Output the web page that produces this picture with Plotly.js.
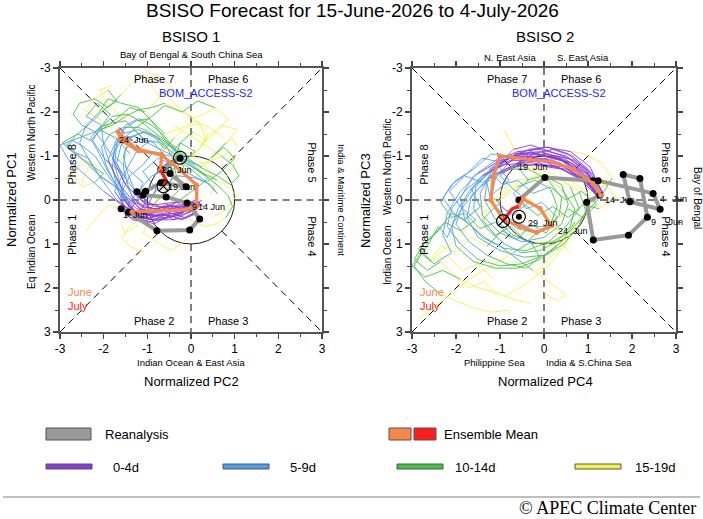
<!DOCTYPE html>
<html><head><meta charset="utf-8">
<script src="https://cdn.plot.ly/plotly-3.0.1.min.js"></script>
<style>html,body{margin:0;padding:0;background:#fff}#chart{width:703px;height:519px}</style>
</head><body><div id="chart"></div>
<script>
// ---------------- DATA ----------------
const tickVals = [-3,-2,-1,0,1,2,3];
const tickText = ["-3","-2","-1","0","1","2","3"];
const leadGroups = ["0-4d","5-9d","10-14d","15-19d"];
const groupColors = ["#8a3be0","#4f9ef2","#45c23f","#f4f444"];

// BSISO1 ensemble members: x = PC2, y = PC1 (daily, 20 days)
const bsiso1PC2 = [
 [0.10,-0.25,-0.60,-0.95,-1.25,-1.45,-1.65,-1.85,-2.00,-2.05,-1.80,-1.45,-1.10,-0.80,-0.50,-0.20,0.15,0.40,0.55,0.45],
 [0.05,-0.20,-0.55,-0.90,-1.20,-1.40,-1.60,-1.75,-1.70,-1.50,-1.20,-0.90,-0.65,-0.40,-0.20,0.10,0.50,0.90,1.00,0.80],
 [0.20,0.00,-0.40,-0.80,-1.10,-1.30,-1.45,-1.55,-1.40,-1.10,-0.80,-0.55,-0.40,-0.35,-0.20,-0.50,-0.90,-1.20,-1.50,-1.60],
 [0.15,-0.10,-0.45,-0.85,-1.30,-1.70,-2.00,-2.30,-2.55,-2.40,-2.10,-1.90,-1.60,-1.20,-0.90,-0.60,-0.30,0.10,0.40,0.20],
 [0.00,-0.30,-0.70,-1.00,-1.35,-1.55,-1.60,-1.50,-1.25,-0.95,-0.70,-0.45,-0.20,0.05,0.30,0.60,0.85,1.05,0.80,0.50],
 [0.25,0.05,-0.35,-0.75,-1.05,-1.25,-1.50,-1.75,-2.00,-2.20,-2.50,-2.70,-2.55,-2.20,-1.90,-1.60,-1.30,-1.10,-0.90,-0.70],
 [0.10,-0.15,-0.50,-0.85,-1.15,-1.35,-1.55,-1.70,-1.60,-1.35,-1.05,-0.80,-0.55,-0.30,-0.05,0.25,0.50,0.70,0.95,1.05],
 [0.05,-0.25,-0.60,-1.00,-1.30,-1.55,-1.75,-2.00,-2.20,-2.45,-2.70,-2.85,-2.60,-2.30,-2.00,-2.20,-2.50,-2.70,-2.40,-2.10],
 [0.20,-0.05,-0.40,-0.75,-1.10,-1.30,-1.45,-1.55,-1.50,-1.20,-0.85,-0.60,-0.40,-0.50,-0.80,-1.10,-1.40,-1.60,-1.40,-1.10],
 [0.10,-0.20,-0.55,-0.90,-1.25,-1.50,-1.75,-1.95,-2.05,-1.85,-1.55,-1.20,-0.95,-0.80,-0.60,-0.40,-0.10,0.20,0.50,0.75],
 [0.15,-0.10,-0.45,-0.80,-1.15,-1.40,-1.65,-1.90,-2.10,-2.30,-2.10,-1.80,-1.50,-1.30,-1.05,-1.30,-1.60,-1.90,-2.10,-1.80],
 [0.05,-0.25,-0.60,-0.95,-1.30,-1.55,-1.70,-1.80,-1.75,-1.55,-1.25,-0.95,-0.75,-0.55,-0.30,-0.15,-0.40,-0.70,-0.95,-1.20],
 [0.10,-0.35,-0.85,-1.30,-1.60,-1.90,-1.70,-1.30,-0.80,-0.30,0.10,0.40,0.65,0.85,0.95,0.80,0.55,0.30,0.10,-0.20],
 [0.20,-0.20,-0.70,-1.15,-1.50,-1.80,-1.60,-1.20,-0.70,-0.20,0.20,0.60,0.90,1.10,0.95,0.70,0.40,0.10,-0.15,-0.40],
 [0.00,-0.35,-0.80,-1.25,-1.60,-2.00,-2.40,-2.80,-3.00,-2.60,-2.20,-1.80,-1.50,-1.20,-0.90,-0.60,-0.30,0.05,0.30,0.55],
 [0.15,-0.15,-0.45,-0.90,-1.20,-1.05,-0.70,-0.30,0.10,0.45,0.60,0.30,0.00,-0.35,-0.25,0.05,0.35,0.20,-0.20,-0.50],
 [0.05,-0.30,-0.75,-1.05,-1.45,-1.75,-1.55,-1.95,-2.25,-2.05,-2.40,-2.15,-1.85,-2.10,-1.70,-1.40,-1.75,-2.05,-2.35,-2.50],
 [0.25,-0.05,-0.35,-0.70,-1.00,-0.80,-1.10,-0.75,-0.40,-0.05,0.35,0.70,1.00,0.75,0.45,0.80,1.05,0.70,0.40,0.15],
 [0.10,-0.40,-0.65,-1.10,-1.50,-1.30,-1.65,-2.10,-2.35,-2.70,-2.95,-2.60,-2.30,-2.00,-1.70,-1.90,-2.20,-2.45,-2.10,-1.80],
 [0.00,-0.25,-0.65,-0.95,-1.40,-1.60,-1.40,-1.10,-0.85,-0.50,-0.25,0.10,-0.20,-0.55,-0.85,-1.20,-1.50,-1.90,-2.20,-2.40],
 [0.30,0.05,-0.30,-0.55,-0.95,-1.25,-1.10,-1.45,-1.80,-1.55,-1.25,-0.90,-0.60,-0.20,0.15,0.55,0.85,0.60,0.30,0.05],
 [0.10,-0.20,-0.50,-0.85,-1.20,-1.45,-1.20,-0.90,-0.55,-0.20,0.10,0.40,0.10,-0.20,-0.55,-0.90,-1.10,-0.80,-0.45,-0.10],
 [0.20,-0.10,-0.50,-0.80,-1.15,-1.45,-1.80,-2.15,-2.50,-2.85,-2.60,-2.30,-2.05,-1.70,-1.40,-1.05,-0.75,-0.40,-0.60,-0.95]
];
const bsiso1PC1 = [
 [0.15,0.20,0.25,0.30,0.28,0.05,-0.35,-0.80,-1.25,-1.65,-1.90,-1.95,-1.75,-1.50,-1.30,-1.10,-0.95,-0.70,-0.40,-0.10],
 [0.10,0.30,0.40,0.45,0.40,0.10,-0.30,-0.80,-1.30,-1.70,-1.85,-1.70,-1.50,-1.20,-0.95,-0.80,-0.90,-1.10,-0.80,-0.50],
 [0.05,0.10,0.20,0.15,0.05,-0.25,-0.60,-1.00,-1.40,-1.55,-1.45,-1.20,-0.90,-0.60,-0.30,0.00,0.30,0.55,0.75,0.55],
 [0.20,0.25,0.35,0.35,0.30,0.00,-0.40,-0.85,-1.30,-1.70,-2.00,-2.30,-2.20,-2.10,-1.80,-1.50,-1.60,-1.80,-1.50,-1.20],
 [0.15,0.35,0.45,0.50,0.45,0.20,-0.20,-0.65,-1.10,-1.35,-1.30,-1.10,-0.90,-0.75,-0.60,-0.45,-0.30,-0.10,0.20,0.40],
 [0.10,0.05,0.05,0.10,0.10,-0.15,-0.50,-0.90,-1.30,-1.55,-1.70,-1.95,-2.20,-2.30,-2.10,-2.40,-2.70,-2.85,-2.60,-2.30],
 [0.00,0.10,0.15,0.20,0.15,-0.10,-0.45,-0.85,-1.25,-1.45,-1.55,-1.45,-1.30,-1.10,-0.90,-0.75,-0.95,-1.20,-1.40,-1.20],
 [0.25,0.35,0.40,0.35,0.25,0.00,-0.35,-0.70,-1.00,-1.20,-1.35,-1.20,-1.00,-0.80,-0.60,-0.40,-0.30,-0.60,-0.90,-0.75],
 [0.15,0.25,0.30,0.35,0.30,0.05,-0.35,-0.75,-1.15,-1.40,-1.30,-1.00,-0.65,-0.30,0.05,0.40,0.60,0.85,1.05,1.20],
 [0.05,0.15,0.20,0.25,0.20,-0.05,-0.40,-0.80,-1.20,-1.50,-1.65,-1.65,-1.55,-1.40,-1.15,-1.40,-1.65,-1.75,-1.60,-1.40],
 [0.30,0.40,0.45,0.45,0.40,0.15,-0.25,-0.65,-1.05,-1.40,-1.65,-1.75,-1.80,-1.60,-1.35,-1.60,-1.90,-2.20,-2.50,-2.60],
 [0.10,0.20,0.30,0.40,0.35,0.10,-0.30,-0.75,-1.20,-1.60,-1.80,-1.85,-1.60,-1.30,-1.05,-0.70,-0.40,-0.10,0.20,0.35],
 [0.15,0.25,0.20,0.05,-0.30,-0.90,-1.40,-1.45,-1.20,-0.95,-0.70,-0.50,-0.30,-0.10,0.15,0.40,0.55,0.60,0.50,0.40],
 [0.05,0.15,0.15,0.00,-0.35,-0.95,-1.50,-1.60,-1.35,-1.05,-0.75,-0.55,-0.35,-0.55,-0.80,-1.00,-1.20,-1.40,-1.55,-1.70],
 [0.20,0.30,0.35,0.30,0.10,-0.20,-0.55,-0.90,-1.25,-1.40,-1.55,-1.70,-1.90,-2.05,-2.10,-2.20,-2.05,-1.85,-1.95,-2.10],
 [0.25,0.40,0.30,0.45,0.35,0.05,-0.30,-0.55,-0.50,-0.35,-0.15,-0.45,-0.70,-0.95,-1.30,-1.55,-1.35,-1.75,-2.05,-2.30],
 [0.10,0.35,0.20,0.40,0.25,-0.20,-0.60,-0.90,-1.35,-1.70,-1.90,-2.20,-1.95,-1.60,-1.40,-1.05,-0.85,-0.60,-0.75,-0.40],
 [0.00,0.20,0.05,0.25,0.15,-0.25,-0.65,-0.95,-0.80,-0.60,-0.40,-0.65,-0.95,-1.20,-0.95,-1.30,-1.60,-1.70,-1.45,-1.10],
 [0.20,0.45,0.30,0.50,0.35,0.10,-0.25,-0.55,-0.95,-1.10,-1.30,-1.50,-1.75,-2.05,-2.25,-2.50,-2.30,-2.05,-1.85,-1.60],
 [0.05,0.30,0.15,0.35,0.20,-0.15,-0.55,-0.80,-1.10,-1.00,-1.30,-1.10,-0.85,-0.60,-0.30,-0.05,0.25,0.10,0.45,0.70],
 [0.15,0.05,0.25,0.10,0.30,0.00,-0.40,-0.70,-1.05,-1.40,-1.65,-1.90,-2.15,-2.00,-2.25,-2.10,-1.85,-1.55,-1.30,-1.00],
 [0.30,0.45,0.35,0.55,0.40,0.10,-0.20,-0.55,-0.70,-0.95,-0.75,-0.50,-0.25,-0.05,0.20,0.40,0.75,0.95,1.15,0.90],
 [0.05,0.25,0.10,0.30,0.20,-0.05,-0.35,-0.60,-0.95,-1.25,-1.50,-1.35,-1.60,-1.85,-2.10,-2.00,-2.30,-2.50,-2.75,-2.90]
];

// BSISO2 ensemble members: x = PC4, y = PC3
const bsiso2PC4 = [
 [1.25,0.90,0.35,-0.25,-0.80,-1.20,-1.45,-1.40,-1.00,-0.50,0.00,0.40,0.55,0.40,0.00,-0.40,-0.80,-1.30,-1.80,-2.30],
 [1.30,1.00,0.50,-0.10,-0.60,-1.10,-1.60,-1.90,-1.80,-1.40,-0.90,-0.40,0.10,0.50,0.80,0.60,0.20,-0.30,-0.80,-1.30],
 [1.20,0.85,0.30,-0.30,-0.90,-1.40,-1.80,-2.10,-2.20,-1.90,-1.50,-1.00,-0.50,0.00,0.40,0.70,0.50,0.10,-0.40,-0.90],
 [1.25,0.95,0.55,0.10,-0.35,-0.75,-1.10,-1.20,-1.00,-0.60,-0.20,0.15,0.30,0.15,-0.20,-0.60,-1.00,-1.50,-2.00,-2.60],
 [1.30,0.90,0.40,-0.20,-0.75,-1.25,-1.65,-1.75,-1.50,-1.00,-0.45,0.05,0.45,0.75,0.95,0.80,0.40,-0.10,-0.60,-1.00],
 [1.20,0.80,0.20,-0.45,-1.00,-1.50,-1.90,-2.20,-2.30,-2.10,-2.50,-2.80,-3.00,-2.70,-2.30,-1.90,-1.50,-1.10,-0.70,-0.30],
 [1.35,1.05,0.60,0.05,-0.50,-0.95,-1.30,-1.35,-1.10,-0.70,-0.25,0.20,0.60,0.95,1.30,1.55,1.30,0.90,0.40,-0.10],
 [1.25,0.90,0.35,-0.20,-0.70,-1.15,-1.55,-1.85,-2.00,-1.70,-1.30,-0.85,-0.40,-0.10,-0.30,-0.70,-1.20,-1.70,-2.20,-2.85],
 [1.20,0.85,0.40,-0.15,-0.65,-1.05,-1.30,-1.20,-0.85,-0.40,0.05,0.35,0.40,0.10,-0.35,-0.80,-1.20,-1.45,-1.30,-0.90],
 [1.30,0.95,0.45,-0.10,-0.60,-1.00,-1.40,-1.70,-1.95,-2.10,-2.00,-1.60,-1.10,-0.60,-0.10,0.30,0.65,0.95,1.20,1.45],
 [1.25,0.95,0.50,-0.05,-0.55,-1.00,-1.45,-1.80,-2.05,-2.20,-2.40,-2.60,-2.80,-2.95,-2.70,-2.40,-2.00,-1.60,-1.20,-0.80],
 [1.20,0.85,0.30,-0.25,-0.75,-1.20,-1.55,-1.60,-1.30,-0.90,-0.50,-0.10,0.30,0.60,0.70,0.40,0.00,-0.40,-0.70,-0.90],
 [1.30,1.05,0.70,0.25,-0.15,-0.55,-0.95,-1.40,-1.75,-2.10,-2.35,-2.10,-1.80,-1.45,-1.10,-0.75,-0.40,-0.05,0.30,0.60],
 [1.25,0.95,0.55,0.15,-0.30,-0.70,-1.05,-0.80,-1.20,-0.85,-0.50,-0.15,0.20,0.55,0.90,1.25,1.65,1.40,1.00,0.60],
 [1.20,0.90,0.50,0.00,-0.45,-0.90,-1.30,-1.65,-1.45,-1.80,-2.10,-2.40,-2.70,-2.95,-2.65,-2.35,-2.00,-1.70,-1.35,-1.05],
 [1.30,1.00,0.65,0.20,-0.25,-0.65,-0.35,-0.70,-0.40,-0.05,0.30,0.05,-0.30,-0.60,-0.95,-1.30,-1.65,-2.00,-2.35,-2.60],
 [1.25,0.95,0.60,0.15,-0.30,-0.75,-1.20,-1.60,-2.00,-2.30,-2.05,-1.70,-1.35,-1.00,-0.60,-0.25,0.10,0.50,0.30,0.00],
 [1.35,1.10,0.70,0.30,-0.20,-0.60,-1.00,-0.70,-0.35,-0.70,-1.05,-1.40,-1.10,-0.75,-0.40,-0.10,0.20,-0.15,-0.50,-0.80],
 [1.20,0.85,0.40,-0.05,-0.55,-1.00,-1.40,-1.80,-2.15,-1.90,-1.55,-1.90,-2.25,-2.55,-2.85,-2.55,-2.20,-1.85,-1.50,-1.15],
 [1.30,0.95,0.50,0.05,-0.40,-0.85,-1.25,-0.95,-0.60,-0.25,0.15,0.50,0.85,1.20,0.90,0.55,0.20,0.50,0.15,-0.20]
];
const bsiso2PC3 = [
 [-0.10,-0.55,-0.85,-0.95,-0.95,-0.65,-0.15,0.35,0.75,0.95,0.85,0.55,0.10,-0.35,-0.55,-0.45,-0.20,0.10,0.40,0.55],
 [-0.05,-0.65,-1.00,-1.15,-1.10,-0.90,-0.55,-0.05,0.45,0.85,1.10,1.15,0.95,0.60,0.20,-0.30,-0.60,-0.75,-0.70,-0.55],
 [-0.15,-0.50,-0.75,-0.85,-0.80,-0.55,-0.20,0.20,0.60,1.00,1.35,1.50,1.45,1.25,0.95,0.50,1.00,1.50,1.90,2.20],
 [-0.10,-0.70,-1.05,-1.20,-1.15,-0.90,-0.50,-0.05,0.35,0.65,0.75,0.55,0.15,-0.25,-0.45,-0.30,0.00,0.40,0.90,1.40],
 [-0.05,-0.45,-0.70,-0.80,-0.75,-0.50,-0.10,0.40,0.85,1.15,1.30,1.25,1.00,0.65,0.25,-0.20,-0.45,-0.55,-0.45,-0.20],
 [-0.15,-0.60,-0.90,-1.00,-0.90,-0.60,-0.20,0.30,0.80,1.20,1.45,1.20,1.50,1.75,1.60,1.80,2.00,2.10,2.25,2.35],
 [-0.10,-0.75,-1.10,-1.20,-1.10,-0.85,-0.45,0.00,0.45,0.80,1.00,0.95,0.70,0.30,-0.10,-0.50,-0.85,-1.05,-1.15,-1.10],
 [-0.05,-0.50,-0.80,-0.90,-0.90,-0.70,-0.35,0.10,0.55,0.95,1.25,1.45,1.55,1.30,0.95,1.20,1.50,1.80,2.20,2.70],
 [-0.10,-0.55,-0.90,-1.05,-1.05,-0.80,-0.40,0.05,0.40,0.60,0.60,0.35,-0.05,-0.45,-0.70,-0.70,-0.40,0.10,0.60,1.00],
 [-0.05,-0.60,-0.95,-1.10,-1.05,-0.85,-0.55,-0.20,0.20,0.60,1.05,1.40,1.55,1.55,1.35,1.05,0.70,0.30,-0.10,-0.50],
 [-0.10,-0.45,-0.70,-0.80,-0.80,-0.60,-0.30,0.10,0.50,0.85,0.60,0.95,1.25,1.50,1.85,2.10,2.30,2.45,2.55,2.50],
 [-0.20,-0.65,-0.95,-1.05,-1.00,-0.70,-0.30,0.20,0.65,1.00,1.20,1.15,0.95,0.60,0.20,-0.25,-0.55,-0.75,-1.20,-1.60],
 [-0.05,-0.55,-0.80,-1.00,-0.90,-1.10,-0.85,-0.95,-0.60,-0.35,0.05,0.40,0.30,0.65,0.50,0.85,0.70,1.05,0.90,1.20],
 [-0.15,-0.65,-0.95,-1.10,-1.25,-1.15,-0.80,-0.45,-0.10,0.25,0.05,0.35,0.15,0.40,0.10,0.20,-0.05,-0.35,-0.15,-0.45],
 [-0.10,-0.40,-0.75,-0.80,-1.00,-0.85,-0.60,-0.25,0.15,0.45,0.30,0.70,0.95,1.35,1.60,1.40,1.75,2.00,1.85,2.20],
 [-0.20,-0.70,-1.00,-1.15,-1.05,-0.80,-0.45,-0.15,0.20,0.05,0.40,0.75,0.55,0.90,0.70,1.05,0.85,1.20,1.05,1.40],
 [-0.05,-0.50,-0.85,-0.95,-1.10,-0.95,-1.05,-0.70,-0.45,-0.05,0.30,0.55,0.85,1.05,1.35,1.60,1.85,2.15,2.30,2.10],
 [-0.15,-0.60,-0.90,-1.00,-1.05,-0.85,-0.55,-0.25,0.05,0.35,0.10,0.45,0.80,0.60,0.95,0.70,0.40,0.15,-0.15,-0.45],
 [-0.10,-0.45,-0.70,-0.90,-0.85,-0.65,-0.40,-0.55,-0.20,0.15,0.45,0.70,0.50,0.85,1.10,1.40,1.25,1.60,1.45,1.80],
 [-0.05,-0.55,-0.85,-1.05,-0.95,-1.00,-0.70,-0.35,-0.45,-0.15,-0.30,0.00,-0.20,0.10,0.40,0.20,0.55,0.95,1.30,1.65]
];

// Reanalysis (observed) paths
const obs1PC2 = [-1.60,-1.43,-0.78,-0.03,0.20,-0.09,-0.57,-1.10,-1.24,-1.04,-0.69,-0.11,-0.48,-0.69,-0.25];
const obs1PC1 = [0.20,0.28,0.70,0.68,0.43,0.07,-0.07,-0.11,-0.19,-0.20,-0.39,-0.30,-0.60,-0.70,-0.95];
const obs2PC4 = [1.23,2.48,2.64,1.95,1.80,2.18,2.35,1.92,1.12,0.97,1.27,1.11,0.02,-0.57];
const obs2PC3 = [-0.44,-0.15,0.21,0.04,-0.58,-0.49,0.39,0.80,0.91,0.05,-0.11,-0.44,-0.51,0.00];

// Ensemble mean: June (orange) and July (red)
const mean1JunePC2 = [-1.35,-0.95,-0.55,-0.10,0.13,0.13,-0.25,-0.67,-1.27,-1.67,-1.61,-1.20,-0.67,-0.70];
const mean1JunePC1 = [0.27,0.25,0.24,0.22,0.15,-0.34,-0.68,-1.02,-1.17,-1.55,-1.36,-1.12,-1.04,-0.68];
const mean1JulyPC2 = [-0.70,-0.64,-0.57,-0.60,-0.63];
const mean1JulyPC1 = [-0.68,-0.57,-0.45,-0.38,-0.31];
const mean2JunePC4 = [1.29,1.11,0.67,0.17,-0.32,-0.72,-1.00,-1.15,-1.21,-0.92,-0.55,-0.17,0.17,-0.09,-0.47,-0.58];
const mean2JunePC3 = [-0.11,-0.38,-0.70,-0.87,-0.92,-0.97,-1.00,-0.53,0.00,0.45,0.60,0.74,0.59,0.19,-0.02,0.15];
const mean2JulyPC4 = [-0.58,-0.72,-0.80,-0.93];
const mean2JulyPC3 = [0.15,0.20,0.30,0.48];

// circled start (dot) and end (cross) markers
const startPt1 = [-0.25,-0.96], endPt1 = [-0.63,-0.31];
const startPt2 = [-0.57,0.38],  endPt2 = [-0.93,0.48];

// date labels
const dates1Text = ["1  Jun","9","14 Jun","19 Jun","24  Jun","29  Jun"];
const dates1X = [-1.58,0.00,0.13,-0.55,-1.68,-0.69];
const dates1Y = [0.33,0.15,0.15,-0.29,-1.36,-0.68];
const dates2Text = ["4   Jun","9     Jun","14  Jun","19  Jun","24  Jun","29  Jun"];
const dates2X = [2.62,2.42,1.36,-0.62,0.29,-0.39];
const dates2Y = [-0.03,0.49,0.00,-0.76,0.70,0.52];

// phase labels
const phaseText = ["Phase 7","Phase 6","Phase 8","Phase 1","Phase 5","Phase 4","Phase 2","Phase 3"];
const phaseX = [-0.84,0.84,-2.73,-2.73,2.78,2.78,-0.84,0.84];
const phaseY = [-2.76,-2.76,-0.80,0.80,-0.85,0.83,2.75,2.75];
const phaseAngle = [0,0,-90,-90,90,90,0,0];

// ---------------- BUILD ----------------
const W = 703, H = 519;
const px = v => v / W, py = v => 1 - v / H;
const FONT = "Liberation Sans, Arial, Helvetica, sans-serif";

function segments(XS, YS, g) {
  const x = [], y = [];
  for (let m = 0; m < XS.length; m++) {
    for (let i = 5 * g; i <= Math.min(5 * g + 5, XS[m].length - 1); i++) { x.push(XS[m][i]); y.push(YS[m][i]); }
    x.push(null); y.push(null);
  }
  return {x, y};
}

const traces = [];
function panel(XS, YS, obsX, obsY, mJx, mJy, mLx, mLy, sP, eP, xa, ya) {
  for (const g of [3, 2, 1, 0]) {
    const s = segments(XS, YS, g);
    traces.push({x: s.x, y: s.y, xaxis: xa, yaxis: ya, mode: "lines", type: "scatter",
      line: {color: groupColors[g], width: 0.9}, hoverinfo: "skip", showlegend: false});
  }
  traces.push({x: obsX, y: obsY, xaxis: xa, yaxis: ya, mode: "lines+markers", type: "scatter",
    line: {color: "#999999", width: 4}, marker: {color: "#000", size: 7}, showlegend: false});
  traces.push({x: mJx, y: mJy, xaxis: xa, yaxis: ya, mode: "lines+markers", type: "scatter",
    line: {color: "#f8874a", width: 3.2}, marker: {color: "#f8874a", size: 5}, showlegend: false});
  traces.push({x: mLx, y: mLy, xaxis: xa, yaxis: ya, mode: "lines", type: "scatter",
    line: {color: "#ff1c1c", width: 3.2}, showlegend: false});
  traces.push({x: [sP[0], eP[0]], y: [sP[1], eP[1]], xaxis: xa, yaxis: ya, mode: "markers", type: "scatter",
    marker: {symbol: "circle-open", size: 13, color: "#000", line: {width: 1.1, color: "#000"}}, showlegend: false});
  traces.push({x: [sP[0]], y: [sP[1]], xaxis: xa, yaxis: ya, mode: "markers", type: "scatter",
    marker: {symbol: "circle", size: 6, color: "#000"}, showlegend: false});
  traces.push({x: [eP[0]], y: [eP[1]], xaxis: xa, yaxis: ya, mode: "markers", type: "scatter",
    marker: {symbol: "x-thin", size: 9, color: "#000", line: {width: 1.2, color: "#000"}}, showlegend: false});
}
panel(bsiso1PC2, bsiso1PC1, obs1PC2, obs1PC1, mean1JunePC2, mean1JunePC1, mean1JulyPC2, mean1JulyPC1, startPt1, endPt1, "x", "y");
panel(bsiso2PC4, bsiso2PC3, obs2PC4, obs2PC3, mean2JunePC4, mean2JunePC3, mean2JulyPC4, mean2JulyPC3, startPt2, endPt2, "x2", "y2");

const shapes = [];
const ann = [];
const dash = {color: "#000", width: 1, dash: "7px,5px"};
for (const [xr, yr] of [["x", "y"], ["x2", "y2"]]) {
  const d = Math.SQRT1_2;
  const segs = [[-3,0,-1,0],[1,0,3,0],[0,-3,0,-1],[0,1,0,3],[-3,-3,-d,-d],[d,d,3,3],[-3,3,-d,d],[d,-d,3,-3]];
  for (const s of segs) shapes.push({type: "line", xref: xr, yref: yr, x0: s[0], y0: s[1], x1: s[2], y1: s[3], line: dash, layer: "below"});
  shapes.push({type: "circle", xref: xr, yref: yr, x0: -1, y0: -1, x1: 1, y1: 1, line: {color: "#000", width: 0.9}, layer: "below"});
  for (let i = 0; i < phaseText.length; i++) {
    ann.push({xref: xr, yref: yr, x: phaseX[i], y: phaseY[i], text: phaseText[i], textangle: phaseAngle[i], borderpad: 0,
      xanchor: "center", yanchor: "middle", showarrow: false, font: {family: FONT, size: 11, color: "#000"}});
  }
  ann.push({xref: xr, yref: yr, x: 0.34, y: -2.44, text: "BOM_ACCESS-S2", borderpad: 0, xanchor: "center", yanchor: "middle", showarrow: false, font: {family: FONT, size: 11, color: "#1f1fff"}});
  ann.push({xref: xr, yref: yr, x: -2.83, y: 2.1, xanchor: "left", yanchor: "middle", borderpad: 0, text: "June", showarrow: false, font: {family: FONT, size: 11, color: "#f8874a"}});
  ann.push({xref: xr, yref: yr, x: -2.83, y: 2.42, xanchor: "left", yanchor: "middle", borderpad: 0, text: "July", showarrow: false, font: {family: FONT, size: 11, color: "#ff1c1c"}});
}
function dateLabels(T, X, Y, xr, yr) {
  for (let i = 0; i < T.length; i++) ann.push({xref: xr, yref: yr, x: X[i], y: Y[i], xanchor: "left", yanchor: "middle", borderpad: 0,
    text: T[i].replace(/ /g, "&nbsp;"), showarrow: false, font: {family: FONT, size: 9, color: "#000"}});
}
dateLabels(dates1Text, dates1X, dates1Y, "x", "y");
dateLabels(dates2Text, dates2X, dates2Y, "x2", "y2");

function txt(x, y, text, size, opts = {}) {
  ann.push(Object.assign({xref: "paper", yref: "paper", x: px(x), y: py(y), text, showarrow: false,
    xanchor: "center", yanchor: "middle", borderpad: 0, font: {family: FONT, size, color: "#000"}}, opts));
}
txt(352, 11, "BSISO Forecast for 15-June-2026 to 4-July-2026", 19);
txt(191, 37, "BSISO 1", 15);
txt(545, 37, "BSISO 2", 15);
txt(191, 54, "Bay of Bengal &amp; South China Sea", 9.5);
txt(510, 57, "N. East Asia", 9.5);
txt(583, 57, "S. East Asia", 9.5);
txt(12, 200, "Normalized PC1", 13, {textangle: -90});
txt(31, 133, "Western North Pacific", 10, {textangle: -90});
txt(31, 252, "Eq Indian Ocean", 10, {textangle: -90});
txt(341, 200, "India &amp; Maritime Continent", 9.5, {textangle: 90});
txt(191, 362, "Indian Ocean &amp; East Asia", 9.5);
txt(191, 381, "Normalized PC2", 13);
txt(366, 200, "Normalized PC3", 13, {textangle: -90});
txt(387, 167, "Western North Pacific", 10, {textangle: -90});
txt(387, 255, "Indian Ocean", 10, {textangle: -90});
txt(697, 198, "Bay of Bengal", 10, {textangle: 90});
txt(494, 362, "Philippine Sea", 9.5);
txt(589, 362, "India &amp; S.China Sea", 9.5);
txt(545, 381, "Normalized PC4", 13);

// legend
function box(x0, y0, x1, y1, fill) {
  shapes.push({type: "rect", xref: "paper", yref: "paper", x0: px(x0), x1: px(x1), y0: py(y1), y1: py(y0),
    fillcolor: fill, line: {color: "#555", width: 1}});
}
box(46, 428, 91, 440, "#999999");
txt(104, 434, "Reanalysis", 13, {xanchor: "left"});
box(389, 428, 411, 440, "#f8874a");
box(414, 428, 436, 440, "#ff1c1c");
txt(443, 434, "Ensemble Mean", 13, {xanchor: "left"});
const legX = [46, 223, 397, 575], legTX = [112, 289, 454, 634];
for (let g = 0; g < 4; g++) {
  box(legX[g], 464, legX[g] + 46, 469, groupColors[g]);
  txt(legTX[g], 467, leadGroups[g], 13, {xanchor: "left"});
}
shapes.push({type: "line", xref: "paper", yref: "paper", x0: px(3), x1: px(700), y0: py(497), y1: py(497), line: {color: "#aaaaaa", width: 1.5}});
txt(697, 508, "© APEC Climate Center", 18, {xanchor: "right", font: {family: "Liberation Serif, Times New Roman, serif", size: 18, color: "#000"}});

function axis(domain, range, anchor) {
  return {domain, range, anchor, tickmode: "array", tickvals: tickVals, ticktext: tickText,
    ticks: "outside", ticklen: 5, tickwidth: 1.3, tickcolor: "#444",
    minor: {dtick: 0.5, ticks: "outside", ticklen: 3, tickwidth: 1, tickcolor: "#444"},
    showline: true, linewidth: 2, linecolor: "#555", mirror: "allticks",
    showgrid: false, zeroline: false, fixedrange: true,
    tickfont: {family: FONT, size: 12, color: "#000"}};
}
const layout = {
  width: W, height: H, margin: {l: 0, r: 0, t: 0, b: 0},
  paper_bgcolor: "#fff", plot_bgcolor: "#fff", showlegend: false,
  xaxis: axis([px(60), px(322)], [-3, 3], "y"),
  yaxis: axis([py(332), py(68)], [3, -3], "x"),
  xaxis2: axis([px(412), px(676)], [-3, 3], "y2"),
  yaxis2: axis([py(332), py(68)], [3, -3], "x2"),
  shapes, annotations: ann
};
Plotly.newPlot("chart", traces, layout, {displayModeBar: false, staticPlot: true});
</script></body></html>
